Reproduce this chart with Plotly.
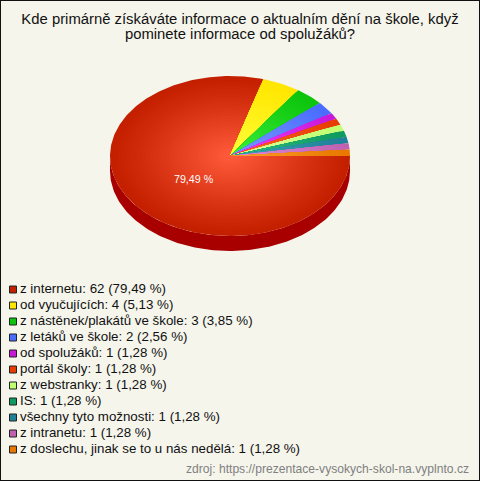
import math
import plotly.graph_objects as go

title_lines = ["Kde primárně získáváte informace o aktualním dění na škole, když",
               "pominete informace od spolužáků?"]
categories = ["z internetu", "od vyučujících", "z nástěnek/plakátů ve škole", "z letáků ve škole",
              "od spolužáků", "portál školy", "z webstranky", "IS", "všechny tyto možnosti",
              "z intranetu", "z doslechu, jinak se to u nás nedělá"]
counts = [62, 4, 3, 2, 1, 1, 1, 1, 1, 1, 1]
percents = ["79,49", "5,13", "3,85", "2,56", "1,28", "1,28", "1,28", "1,28", "1,28", "1,28", "1,28"]
edge_colors = ["#c42000", "#ffe600", "#0cc40c", "#4a6cff", "#c818d8", "#e83c00",
               "#c0ff70", "#0f9a60", "#1f8098", "#c060b0", "#e87800"]
center_colors = ["#ff5a3a", "#ffff3a", "#3cf03c", "#7a9cff", "#f040ff", "#ff6a30",
                 "#e0ffa0", "#30c080", "#40a8b8", "#e090e0", "#ffa030"]
source = "zdroj: https://prezentace-vysokych-skol-na.vyplnto.cz"

BG = "#f5f5ec"
CX, CY, RX, RY, DEPTH = 230, 156, 120, 80, 15
BANDS = 30


def hex2rgb(h):
    return [int(h[i:i + 2], 16) for i in (1, 3, 5)]


def mix(a, b, t):
    ca, cb = hex2rgb(a), hex2rgb(b)
    return "rgb(%d,%d,%d)" % tuple(round(x + (y - x) * t) for x, y in zip(ca, cb))


def wedge(a0, a1, scale):
    n = max(3, int(abs(a1 - a0) * 60))
    xs, ys = [CX], [CY]
    for i in range(n + 1):
        a = a0 + (a1 - a0) * i / n
        xs.append(CX + RX * scale * math.cos(a))
        ys.append(CY + RY * scale * math.sin(a))
    xs.append(CX)
    ys.append(CY)
    return xs, ys


fig = go.Figure()

# side wall of the tilted pie
side_x, side_y = [], []
for i in range(181):
    a = math.pi * i / 180
    side_x.append(CX + RX * math.cos(a))
    side_y.append(CY + RY * math.sin(a))
for i in range(180, -1, -1):
    a = math.pi * i / 180
    side_x.append(CX + RX * math.cos(a))
    side_y.append(CY + DEPTH + RY * math.sin(a))
fig.add_trace(go.Scatter(x=side_x, y=side_y, mode="lines", fill="toself", fillcolor="#a80000",
                         line=dict(width=0), hoverinfo="skip"))

# slices, running clockwise from three o'clock; shaded with shrinking copies
total = sum(counts)
angle = 0.0
for cat, cnt, ec, cc in zip(categories, counts, edge_colors, center_colors):
    end = angle + 2 * math.pi * cnt / total
    for b in range(BANDS):
        s = 1 - b / BANDS
        xs, ys = wedge(angle, end, s)
        fig.add_trace(go.Scatter(x=xs, y=ys, mode="lines", fill="toself",
                                 fillcolor=mix(ec, cc, (b / (BANDS - 1)) ** 1.1),
                                 line=dict(width=0), hoverinfo="skip"))
    angle = end

# legend rows
row_y = [289.5 + 16 * i for i in range(len(categories))]
fig.add_trace(go.Scatter(x=[13] * len(categories), y=row_y, mode="markers",
                         marker=dict(symbol="square", size=7, color=edge_colors,
                                     line=dict(color="#222222", width=1)),
                         hoverinfo="skip"))
fig.add_trace(go.Scatter(x=[20] * len(categories), y=row_y, mode="text",
                         text=["%s: %d (%s %%)" % (c, n, p) for c, n, p in zip(categories, counts, percents)],
                         textposition="middle right",
                         textfont=dict(family="Liberation Sans", size=13.33, color="#111111"),
                         hoverinfo="skip"))

# title lines
fig.add_trace(go.Scatter(x=[240, 240], y=[20, 35], mode="text", text=title_lines,
                         textposition="middle center",
                         textfont=dict(family="Liberation Sans", size=14.85, color="#111111"),
                         hoverinfo="skip"))

annotations = [
    dict(x=194, y=179, text=percents[0] + " %", showarrow=False, xanchor="center", yanchor="middle",
         font=dict(family="Liberation Sans", size=10.67, color="#ffffff")),
    dict(x=471, y=468.5, text=source, showarrow=False, xanchor="right", yanchor="middle",
         font=dict(family="Liberation Sans", size=12.1, color="#808080")),
]

fig.update_layout(
    width=480, height=481, margin=dict(l=0, r=0, t=0, b=0),
    paper_bgcolor=BG, plot_bgcolor=BG, showlegend=False,
    xaxis=dict(range=[0, 480], visible=False, fixedrange=True),
    yaxis=dict(range=[481, 0], visible=False, fixedrange=True),
    annotations=annotations,
    shapes=[dict(type="rect", xref="paper", yref="paper", x0=0, y0=0, x1=1, y1=1,
                 line=dict(color="#111111", width=2), layer="above")],
)
fig.write_html("out.html", config={"displayModeBar": False},
               post_script="document.body.style.margin='0';")
